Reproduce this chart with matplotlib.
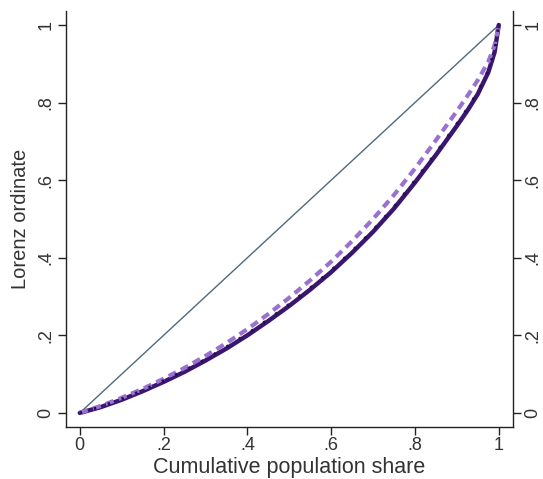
import matplotlib
matplotlib.use("Agg")
import matplotlib.pyplot as plt

plt.rcParams['font.family'] = ['Liberation Sans', 'DejaVu Sans']

# cumulative population share and Lorenz ordinates
pop_share = [0, 0.05, 0.1, 0.15, 0.2, 0.25, 0.3, 0.35, 0.4, 0.45, 0.5, 0.55,
             0.6, 0.65, 0.7, 0.75, 0.8, 0.85, 0.9, 0.925, 0.95, 0.975, 0.99, 1.0]
lorenz_solid = [0, 0.015, 0.034, 0.056, 0.08, 0.106, 0.135, 0.166, 0.2, 0.237,
                0.276, 0.318, 0.363, 0.413, 0.467, 0.527, 0.594, 0.665, 0.74,
                0.779, 0.822, 0.878, 0.93, 1.0]
lorenz_dashed = [0, 0.018, 0.039, 0.062, 0.088, 0.116, 0.147, 0.18, 0.216, 0.255,
                 0.297, 0.342, 0.39, 0.443, 0.5, 0.562, 0.63, 0.703, 0.778,
                 0.817, 0.858, 0.905, 0.948, 1.0]
lorenz_dotted = [0, 0.016, 0.036, 0.058, 0.083, 0.109, 0.138, 0.17, 0.204, 0.241,
                 0.28, 0.322, 0.367, 0.417, 0.471, 0.531, 0.599, 0.67, 0.745,
                 0.784, 0.827, 0.882, 0.933, 1.0]
equality = [0, 1]
ticks = [0, 0.2, 0.4, 0.6, 0.8, 1.0]
ticklabels = ["0", ".2", ".4", ".6", ".8", "1"]

fig = plt.figure(figsize=(5.43, 4.79), dpi=100)
ax = fig.add_axes([0.1215, 0.1096, 0.8225, 0.8674])

ax.plot(equality, equality, color='#4f6a7c', lw=1.0)
ax.plot(pop_share, lorenz_solid, color='#3a1670', lw=3.2,
        solid_capstyle='round', solid_joinstyle='round')
ax.plot(pop_share, lorenz_dashed, color='#9a70d0', lw=3.0, dashes=(2.0, 1.3))
ax.plot(pop_share, lorenz_dotted, color='#26104f', lw=2.2, dashes=(0.8, 4.0))

ax.set_xlim(-0.033, 1.033)
ax.set_ylim(-0.035, 1.036)
ax.set_xticks(ticks)
ax.set_xticklabels(ticklabels)
ax.set_yticks(ticks)
ax.set_yticklabels(ticklabels, va='center')

ax.spines['top'].set_visible(False)
for s in ['left', 'right', 'bottom']:
    ax.spines[s].set_linewidth(1.0)
    ax.spines[s].set_color('#222222')

ax.tick_params(axis='both', direction='out', length=5.5, width=1.0,
               labelsize=13, colors='#222222', labelcolor='#333333')
ax.tick_params(axis='y', left=True, right=True, labelleft=True, labelright=True,
               labelrotation=90, pad=3)
ax.tick_params(axis='x', pad=2)

ax.set_xlabel('Cumulative population share', fontsize=15.5, color='#333333', labelpad=2)
ax.set_ylabel('Lorenz ordinate', fontsize=14.5, color='#333333', labelpad=5)

fig.savefig('out.png', dpi=100)
